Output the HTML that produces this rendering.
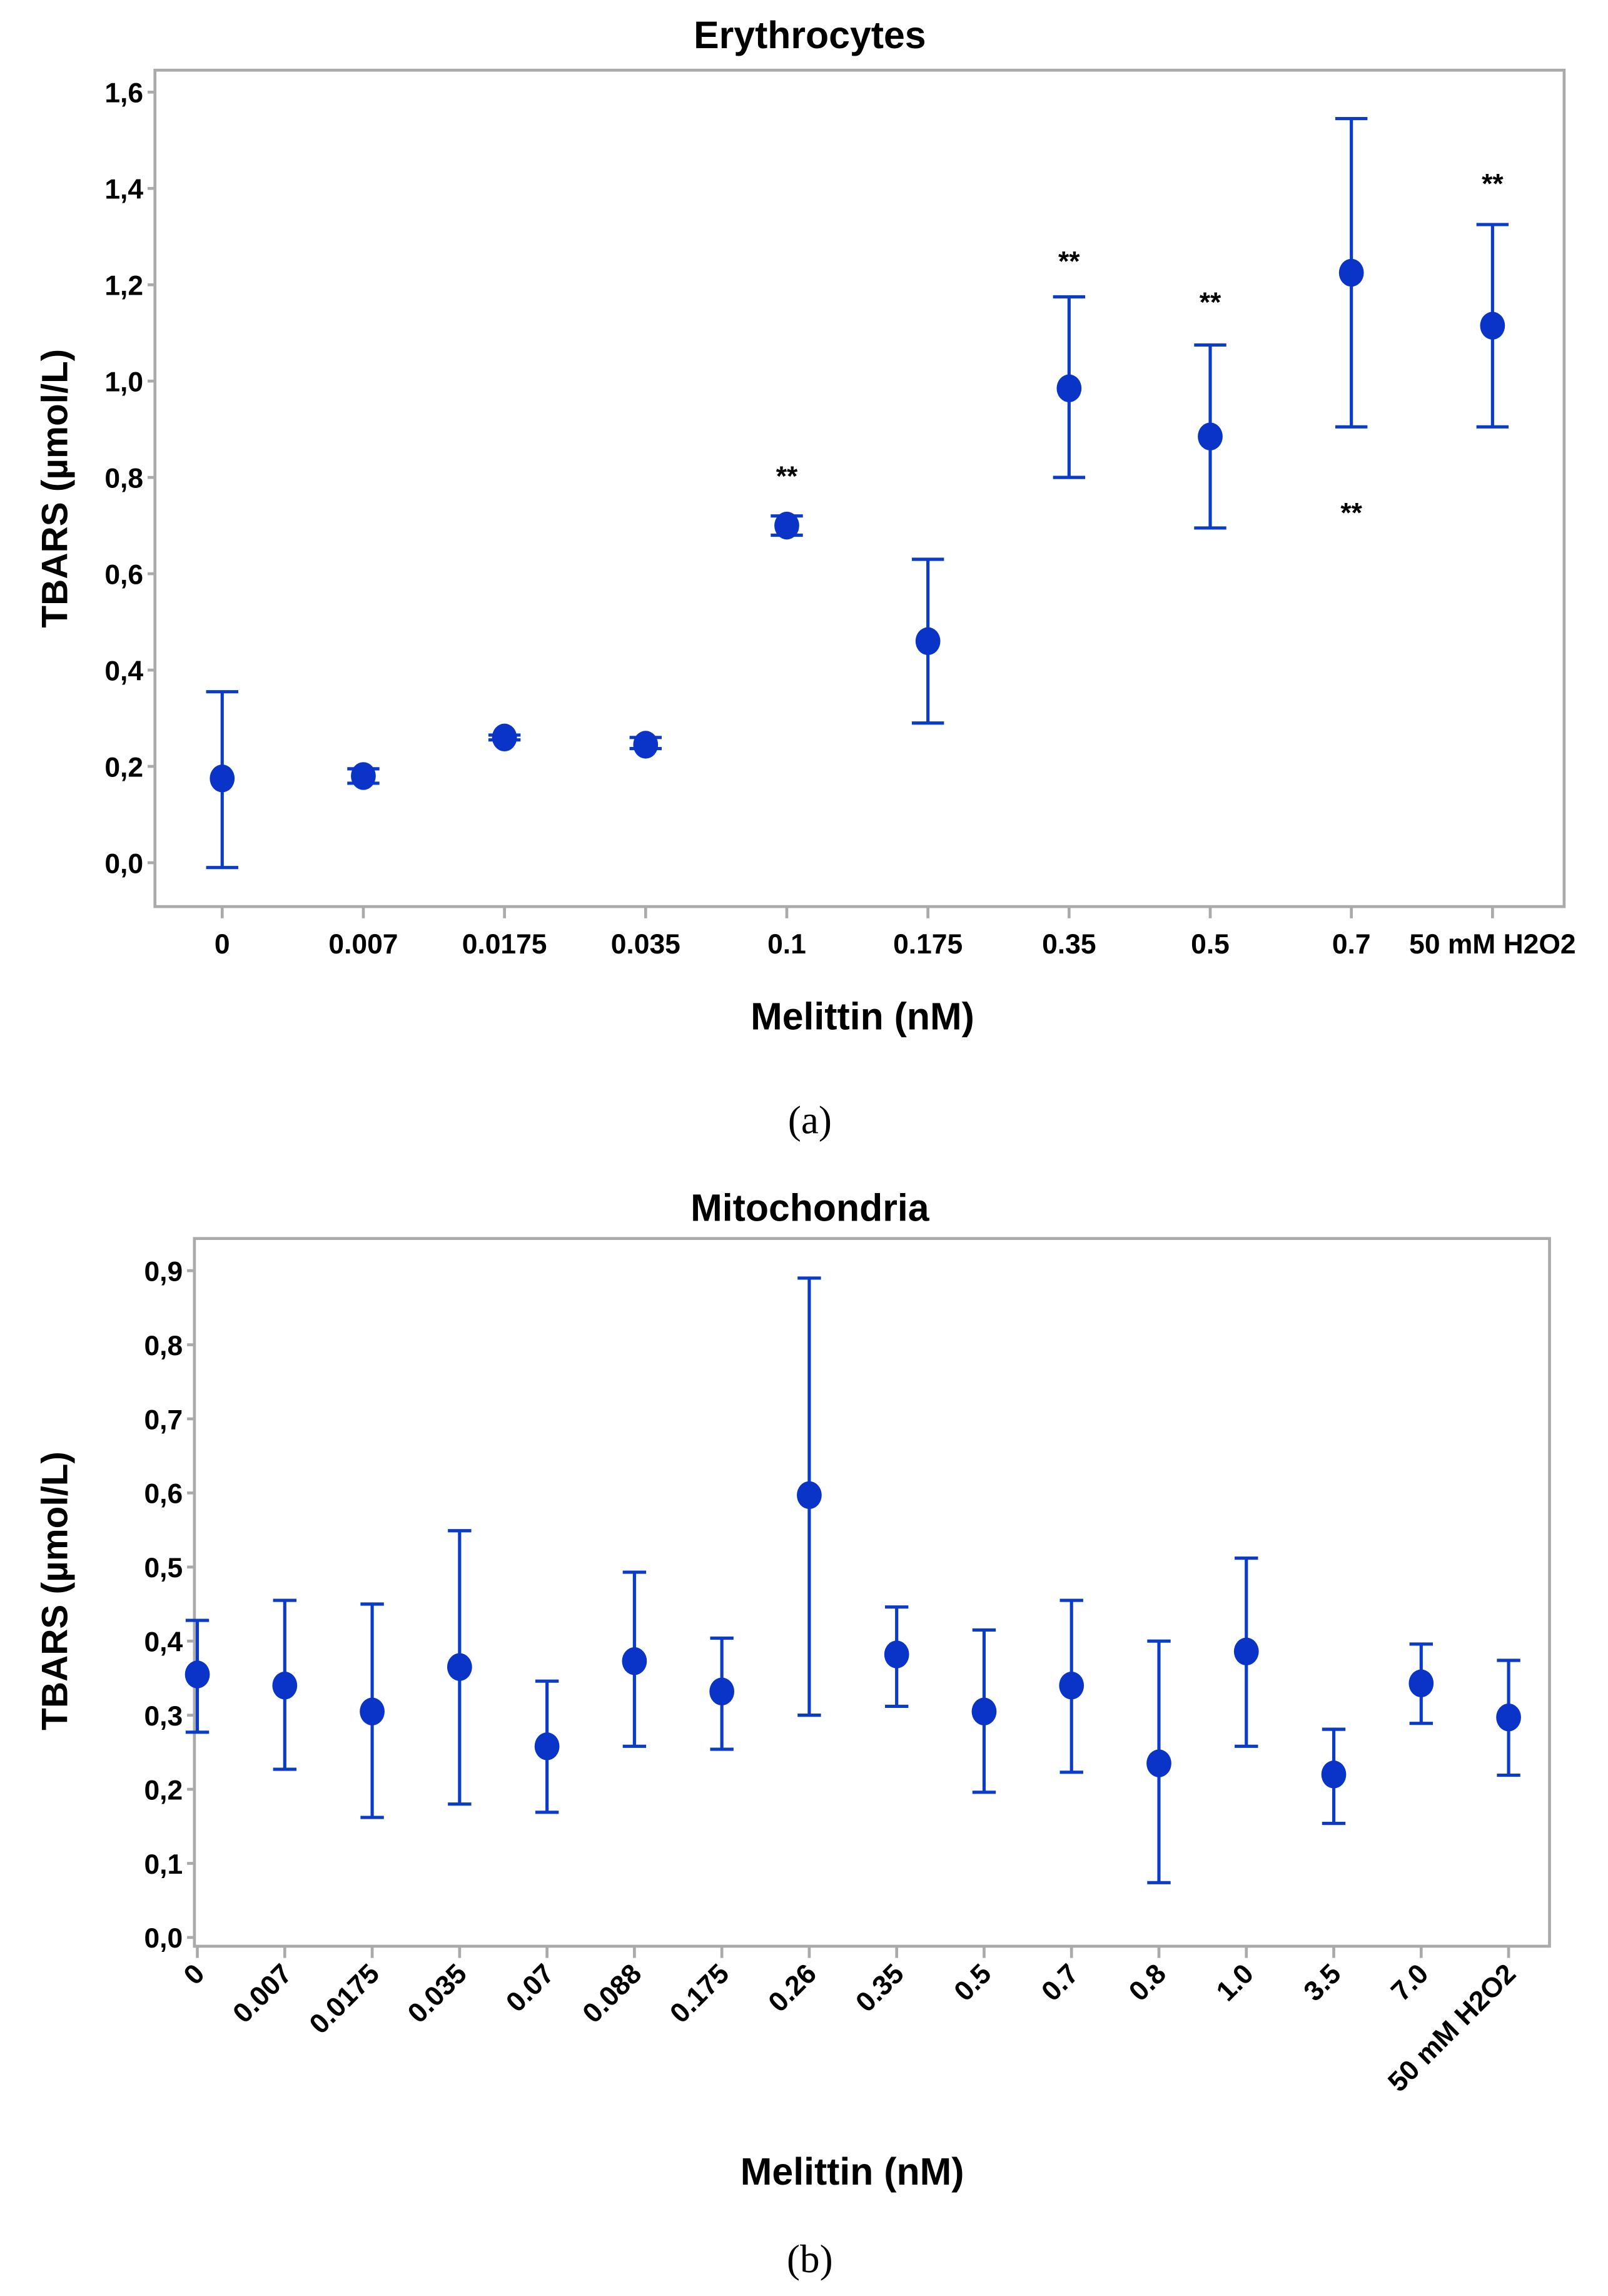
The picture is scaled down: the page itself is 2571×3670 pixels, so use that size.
<!DOCTYPE html>
<html><head><meta charset="utf-8"><style>
html,body{margin:0;padding:0;background:#fff;}
svg{display:block;}
.tk{font-family:"Liberation Sans Narrow","Liberation Sans",sans-serif;font-weight:bold;font-size:19px;fill:#000;}
.ttl{font-family:"Liberation Sans Narrow","Liberation Sans",sans-serif;font-size:26px;fill:#000;font-weight:bold;}
.yt{font-family:"Liberation Sans",sans-serif;font-weight:bold;font-size:25px;fill:#000;}
.cap{font-family:"Liberation Serif",serif;font-size:27px;fill:#000;}
</style></head><body>
<svg id="s" width="2571" height="3670" viewBox="0 0 1100 1570.2" xmlns="http://www.w3.org/2000/svg">
<text x="554" y="33" text-anchor="middle" class="ttl">Erythrocytes</text>
<rect x="106" y="48" width="964" height="572" fill="none" stroke="#aaa" stroke-width="2"/>
<text transform="translate(46,334) rotate(-90)" text-anchor="middle" class="yt">TBARS (µmol/L)</text>
<text x="590" y="704" text-anchor="middle" class="ttl">Melittin (nM)</text>
<text x="554" y="775" text-anchor="middle" class="cap">(a)</text>
<text x="554" y="835" text-anchor="middle" class="ttl">Mitochondria</text>
<rect x="133" y="847" width="927" height="484" fill="none" stroke="#aaa" stroke-width="2"/>
<text transform="translate(46,1088) rotate(-90)" text-anchor="middle" class="yt">TBARS (µmol/L)</text>
<text x="583" y="1494" text-anchor="middle" class="ttl">Melittin (nM)</text>
<text x="554" y="1554" text-anchor="middle" class="cap">(b)</text>
<g id="ga"></g><g id="gb"></g>
</svg>
<script>
const aCats=["0","0.007","0.0175","0.035","0.1","0.175","0.35","0.5","0.7","50 mM  H2O2"];
const aMean=[0.175,0.18,0.26,0.245,0.70,0.46,0.985,0.885,1.225,1.115];
const aLo=[-0.01,0.165,0.255,0.237,0.68,0.29,0.80,0.695,0.905,0.905];
const aHi=[0.355,0.195,0.265,0.26,0.72,0.63,1.175,1.075,1.545,1.325];
const aStarIdx=[4,6,7,8,9];
const aStarVal=[0.826,1.272,1.187,0.75,1.433];
const aTicks=["0,0","0,2","0,4","0,6","0,8","1,0","1,2","1,4","1,6"];
const aTickVals=[0,0.2,0.4,0.6,0.8,1.0,1.2,1.4,1.6];
const bCats=["0","0.007","0.0175","0.035","0.07","0.088","0.175","0.26","0.35","0.5","0.7","0.8","1.0","3.5","7.0","50 mM  H2O2"];
const bMean=[0.355,0.34,0.305,0.365,0.258,0.373,0.332,0.597,0.382,0.305,0.34,0.235,0.386,0.22,0.343,0.297];
const bLo=[0.277,0.227,0.162,0.18,0.169,0.258,0.254,0.30,0.312,0.196,0.223,0.074,0.258,0.154,0.289,0.219];
const bHi=[0.428,0.455,0.45,0.549,0.346,0.493,0.404,0.89,0.446,0.415,0.455,0.40,0.512,0.281,0.396,0.374];
const bTicks=["0,0","0,1","0,2","0,3","0,4","0,5","0,6","0,7","0,8","0,9"];
const bTickVals=[0,0.1,0.2,0.3,0.4,0.5,0.6,0.7,0.8,0.9];
const NS="http://www.w3.org/2000/svg";
function mk(p,t,at){const e=document.createElementNS(NS,t);for(const k in at)e.setAttribute(k,at[k]);p.appendChild(e);return e;}
function draw(g,o){
  const x=i=>o.x0+i*(o.x1-o.x0)/(o.cats.length-1);
  const y=v=>o.y0-v*(o.y0-o.y1)/o.vmax;
  o.tv.forEach((v,i)=>{
    const l=mk(g,'line',{x1:o.fl-5,x2:o.fl,y1:y(v),y2:y(v),stroke:'#aaa','stroke-width':2});
    
    
    const t=mk(g,'text',{x:o.fl-8,y:y(v)+7,'text-anchor':'end',class:'tk'});t.textContent=o.tl[i];
    
    
  });
  o.cats.forEach((c,i)=>{
    const l=mk(g,'line',{x1:x(i),x2:x(i),y1:o.fb,y2:o.fb+8,stroke:'#aaa','stroke-width':2});
    
    
    let t;
    if(o.rot){t=mk(g,'text',{transform:`translate(${x(i)+6},${o.fb+20}) rotate(-45)`,'text-anchor':'end',class:'tk','font-size':'20'});}
    else{t=mk(g,'text',{x:x(i),y:o.fb+32,'text-anchor':'middle',class:'tk'});}
    t.textContent=c;
    
    
    const col='#0a3cc8';
    const eb=mk(g,'path',{d:`M${x(i)},${y(o.lo[i])}V${y(o.hi[i])}M${x(i)-o.cap},${y(o.lo[i])}H${x(i)+o.cap}M${x(i)-o.cap},${y(o.hi[i])}H${x(i)+o.cap}`,stroke:col,'stroke-width':2.2,fill:'none'});
    
    
    const p=mk(g,'ellipse',{cx:x(i),cy:y(o.m[i]),rx:8.5,ry:9.5,fill:'#0a34c8'});
    
    
  });
  if(o.si)o.si.forEach((ix,k)=>{
    const t=mk(g,'text',{x:x(ix),y:y(o.sv[k])+14,'text-anchor':'middle',class:'tk','font-size':'27'});t.textContent='**';
    
    
  });
}
draw(document.getElementById('ga'),{cats:aCats,m:aMean,lo:aLo,hi:aHi,tv:aTickVals,tl:aTicks,x0:152,x1:1021,y0:590,y1:63,vmax:1.6,fl:106,fb:620,cap:11,rot:false,si:aStarIdx,sv:aStarVal});
draw(document.getElementById('gb'),{cats:bCats,m:bMean,lo:bLo,hi:bHi,tv:bTickVals,tl:bTicks,x0:135,x1:1032,y0:1325,y1:869,vmax:0.9,fl:133,fb:1331,cap:8,rot:true});
</script>
</body></html>
